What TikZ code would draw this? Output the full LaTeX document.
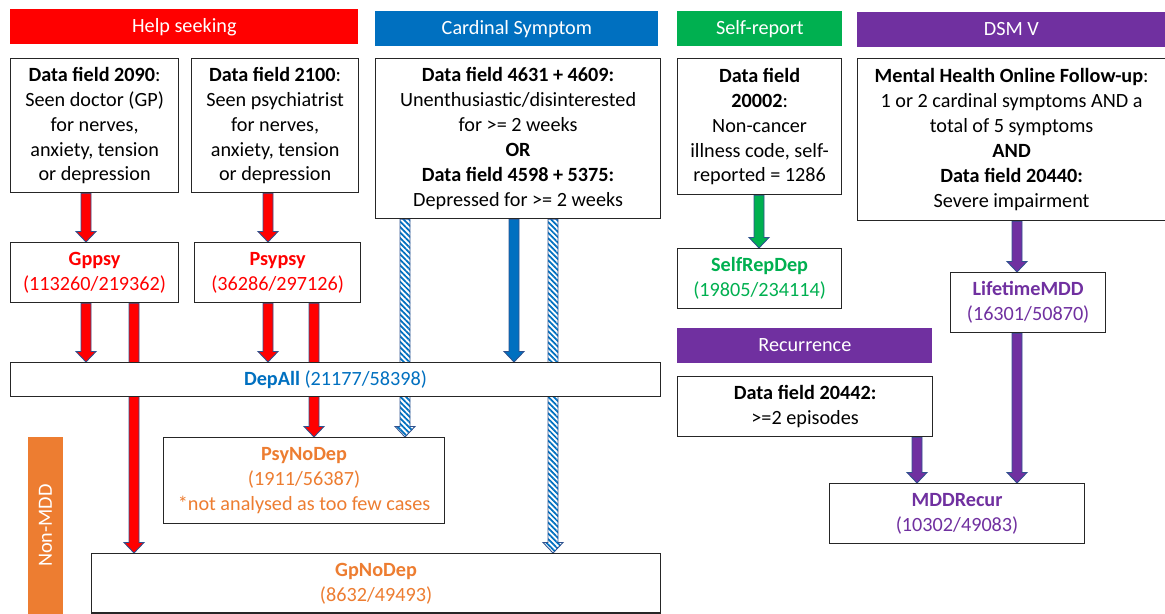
\documentclass[tikz,border=0pt]{standalone}
\usepackage{fontspec}
\setmainfont{Carlito}
\usetikzlibrary{calc,backgrounds,patterns.meta}

\definecolor{hsred}{RGB}{255,0,0}
\definecolor{csblue}{RGB}{0,112,192}
\definecolor{srgreen}{RGB}{0,176,80}
\definecolor{dsmpurple}{RGB}{112,48,160}
\definecolor{nmorange}{RGB}{237,125,49}
\definecolor{arredge}{RGB}{47,82,143}

% block arrow from #2 straight down to #3
\newcommand{\blockarrow}[3][]{%
  \path #2 coordinate (bas) #3 coordinate (bae);
  \draw[#1] ($(bas)+(-0.1cm,0)$) -- ($(bae)+(-0.1cm,0.21cm)$) -- ($(bae)+(-0.2cm,0.21cm)$)
    -- (bae) -- ($(bae)+(0.2cm,0.21cm)$) -- ($(bae)+(0.1cm,0.21cm)$) -- ($(bas)+(0.1cm,0)$) -- cycle;}

\begin{document}
\begin{tikzpicture}[
    x=0.02cm, y=-0.02cm,
    txt/.style={font=\fontsize{11.5}{14.2}\selectfont},
    header/.style={txt, anchor=north west, fill=#1, text=white, minimum height=0.70cm, inner sep=0pt, text height=7.4pt, text depth=1.2pt},
    cbox/.style={txt, anchor=north west, draw=black!85, line width=0.7pt, fill=white, align=center, inner sep=2pt},
    arr/.style={fill=#1, draw=arredge, line width=0.5pt},
    striped/.style={preaction={fill=white}, pattern={Lines[angle=-45,distance=2.2pt,line width=1pt]}, pattern color=csblue, draw=arredge, line width=0.5pt}
]
    \useasboundingbox (0,0) rectangle (1165,614);

    % Headers
    \node [header=hsred, minimum width=6.96cm] (hshead) at (10,9) {Help seeking};
    \node [header=csblue, minimum width=5.66cm] (cshead) at (375,11) {Cardinal Symptom};
    \node [header=srgreen, minimum width=3.30cm] (srhead) at (677,11) {Self-report};
    \node [header=dsmpurple, minimum width=6.16cm] (dsmhead) at (857,12) {DSM V};
    \node [header=dsmpurple, minimum width=5.10cm] (rechead) at (677,328) {Recurrence};
    \node [txt, fill=nmorange, text=white, rotate=90, minimum width=3.54cm, minimum height=0.70cm, inner sep=0pt] (nonmdd) at (45.5,525.5) {Non-MDD};

    % Data fields
    \node [cbox, minimum width=3.36cm, minimum height=2.68cm] (gp) at (10,58)
        {\textbf{Data field 2090}:\\Seen doctor (GP)\\for nerves,\\anxiety, tension\\or depression};
    \node [cbox, minimum width=3.34cm, minimum height=2.68cm] (psy) at (191,58)
        {\textbf{Data field 2100}:\\Seen psychiatrist\\for nerves,\\anxiety, tension\\or depression};
    \node [cbox, minimum width=5.70cm, minimum height=3.20cm] (card) at (375,58)
        {\textbf{Data field 4631 + 4609:}\\Unenthusiastic/disinterested\\for >= 2 weeks\\\textbf{OR}\\\textbf{Data field 4598 + 5375:}\\Depressed for >= 2 weeks};
    \node [cbox, minimum width=3.28cm, minimum height=2.72cm] (srep) at (677,58)
        {\textbf{Data field}\\\textbf{20002}:\\Non-cancer\\illness code, self-\\reported = 1286};
    \node [cbox, minimum width=6.16cm, minimum height=3.24cm] (dsm) at (857,58)
        {\textbf{Mental Health Online Follow-up}:\\1 or 2 cardinal symptoms AND a\\total of 5 symptoms\\\textbf{AND}\\\textbf{Data field 20440:}\\Severe impairment};
    \node [cbox, minimum width=5.10cm, minimum height=1.20cm] (rec) at (677,376)
        {\textbf{Data field 20442:}\\>=2 episodes};

    % Phenotypes
    \node [cbox, text=hsred, minimum width=3.36cm, minimum height=1.20cm] (gppsy) at (10,242)
        {\textbf{Gppsy}\\(113260/219362)};
    \node [cbox, text=hsred, minimum width=3.32cm, minimum height=1.20cm] (psypsy) at (194,242)
        {\textbf{Psypsy}\\(36286/297126)};
    \node [cbox, text=srgreen, minimum width=3.28cm, minimum height=1.20cm] (selfrep) at (677,248)
        {\textbf{SelfRepDep}\\(19805/234114)};
    \node [cbox, text=dsmpurple, minimum width=3.10cm, minimum height=1.20cm] (lifetime) at (950,272)
        {\textbf{LifetimeMDD}\\(16301/50870)};
    \node [cbox, text=csblue, minimum width=13.00cm, minimum height=0.68cm] (depall) at (10,362)
        {\textbf{DepAll} (21177/58398)};
    \node [cbox, text=nmorange, minimum width=5.62cm, minimum height=1.72cm] (psynodep) at (163,437)
        {\textbf{PsyNoDep}\\(1911/56387)\\*not analysed as too few cases};
    \node [cbox, text=nmorange, minimum width=11.38cm, minimum height=1.19cm] (gpnodep) at (91,553)
        {\textbf{GpNoDep}\\(8632/49493)};
    \node [cbox, text=dsmpurple, minimum width=5.10cm, minimum height=1.20cm] (mddrecur) at (829,483)
        {\textbf{MDDRecur}\\(10302/49083)};

    % Arrow columns
    \coordinate (c1) at (86,0);
    \coordinate (c2) at (134,0);
    \coordinate (c3) at (268,0);
    \coordinate (c4) at (314,0);
    \coordinate (c5) at (405,0);
    \coordinate (c6) at (514,0);
    \coordinate (c7) at (553,0);
    \coordinate (c8) at (759,0);
    \coordinate (c9) at (1017,0);
    \coordinate (c10) at (917,0);

    % Arrows
    \begin{scope}[on background layer]
        \blockarrow[arr=hsred]{(gp.south -| c1)}{(gppsy.north -| c1)}
        \blockarrow[arr=hsred]{(psy.south -| c3)}{(psypsy.north -| c3)}
        \blockarrow[arr=hsred]{(gppsy.south -| c1)}{(depall.north -| c1)}
        \blockarrow[arr=hsred]{(gppsy.south -| c2)}{(gpnodep.north -| c2)}
        \blockarrow[arr=hsred]{(psypsy.south -| c3)}{(depall.north -| c3)}
        \blockarrow[arr=hsred]{(psypsy.south -| c4)}{(psynodep.north -| c4)}
        \blockarrow[arr=csblue]{(card.south -| c6)}{(depall.north -| c6)}
        \blockarrow[striped]{(card.south -| c5)}{(psynodep.north -| c5)}
        \blockarrow[striped]{(card.south -| c7)}{(gpnodep.north -| c7)}
        \blockarrow[arr=srgreen]{(srep.south -| c8)}{(selfrep.north -| c8)}
        \blockarrow[arr=dsmpurple]{(dsm.south -| c9)}{(lifetime.north -| c9)}
        \blockarrow[arr=dsmpurple]{(lifetime.south -| c9)}{(mddrecur.north -| c9)}
        \blockarrow[arr=dsmpurple]{(rec.south -| c10)}{(mddrecur.north -| c10)}
    \end{scope}
\end{tikzpicture}
\end{document}
